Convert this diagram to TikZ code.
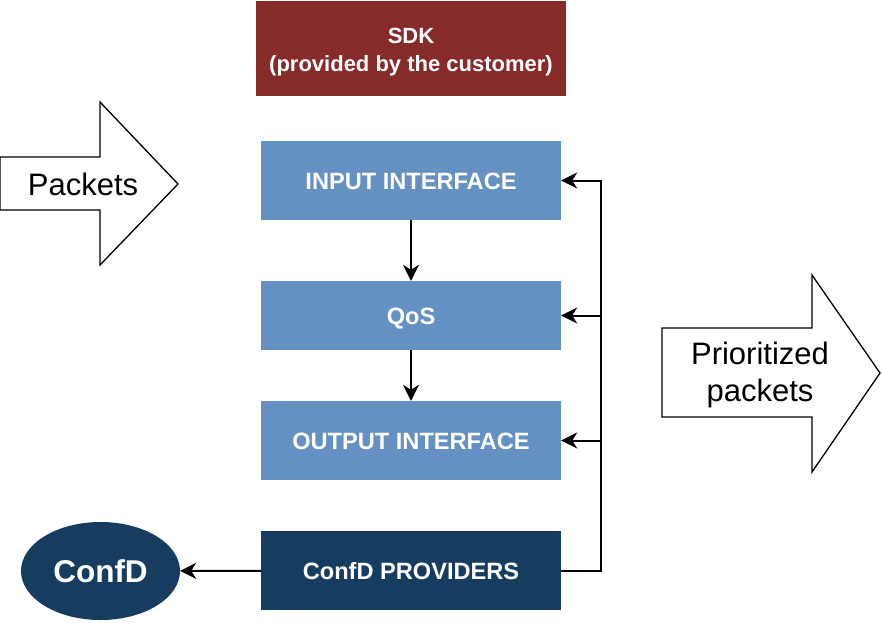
\documentclass[tikz,border=0pt]{standalone}
\usepackage{fontspec}
\setmainfont{Liberation Sans}
\usetikzlibrary{arrows.meta,shapes.geometric}
\definecolor{sdkred}{HTML}{862B2A}
\definecolor{boxblue}{HTML}{6490C2}
\definecolor{darkblue}{HTML}{163D5F}
\begin{document}
\begin{tikzpicture}[x=1pt,y=-1pt,
  blk/.style={rectangle, fill=#1, draw=none, text=white, font=\fontsize{23.6}{27}\selectfont\bfseries, minimum width=300pt, inner sep=0pt, text height=17pt, text depth=0pt},
  conn/.style={line width=2pt, -{Stealth[length=16pt,width=16pt,inset=5pt]}},
  bigarrow/.style={draw=black, fill=white, line width=1.3pt, line join=miter},
  arrowtext/.style={font=\fontsize{31}{37}\selectfont, align=center, inner sep=0pt}]
\useasboundingbox (0,0) rectangle (882,622);

% SDK
\node[rectangle, fill=sdkred, draw=none, minimum width=310pt, minimum height=95pt, inner sep=0pt] (sdk) at (411,48.5) {};
\node[align=center, text=white, inner sep=0pt, font=\fontsize{22}{28}\selectfont\bfseries] (sdktext) at (411,52) {SDK\\(provided by the customer)};

% stack
\node[blk=boxblue, minimum height=79pt] (input) at (411,180.5) {INPUT INTERFACE};
\node[blk=boxblue, minimum height=69pt] (qos) at (411,315.5) {QoS};
\node[blk=boxblue, minimum height=79pt] (output) at (411,440.5) {OUTPUT INTERFACE};
\node[blk=darkblue, minimum height=79pt] (prov) at (411,570.5) {ConfD PROVIDERS};

% ConfD ellipse
\node[ellipse, fill=darkblue, draw=none, minimum width=159pt, minimum height=98pt, inner sep=0pt, text=white, font=\fontsize{31.5}{36}\selectfont\bfseries] (confd) at (100.5,571) {ConfD};

% big arrows
\draw[bigarrow] (0,157) -- (100,157) -- (100,102) -- (178,184) -- (100,265) -- (100,210) -- (0,210) -- cycle;
\node[arrowtext] (pk) at (83,184) {Packets};
\draw[bigarrow] (662,328) -- (812,328) -- (812,275) -- (880,373) -- (812,472) -- (812,417) -- (662,417) -- cycle;
\node[arrowtext] (ppk) at (760,375) {Prioritized\\packets};

% connectors
\draw[conn] (input) -- (qos);
\draw[conn] (qos) -- (output);
\draw[conn] (prov) -- (confd);
\coordinate (bus) at (601,570.5);
\draw[conn] (prov.east) -- (bus) |- (input.east);
\draw[conn] (bus |- qos.east) -- (qos.east);
\draw[conn] (bus |- output.east) -- (output.east);
\end{tikzpicture}
\end{document}
